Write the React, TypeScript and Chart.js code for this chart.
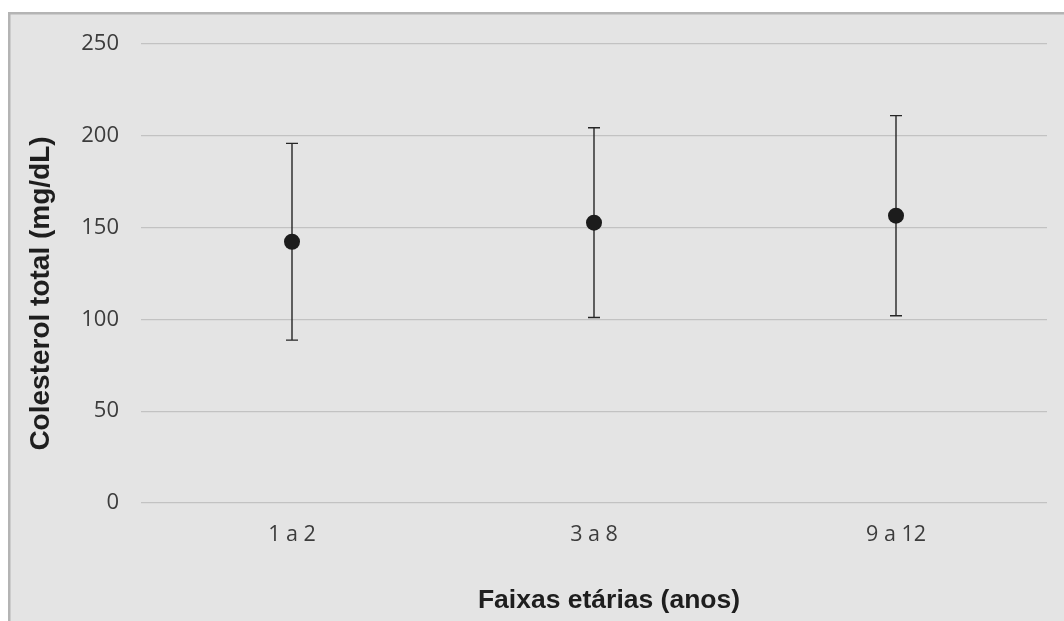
import React, { useEffect, useRef } from "react";
import { Chart, registerables } from "chart.js";

Chart.register(...registerables);

// Age groups and total cholesterol (mean ± SD, mg/dL)
const ageGroups = ["1 a 2", "3 a 8", "9 a 12"];
const meanValues = [142.3, 152.7, 156.5];
const sdValues = [53.6, 51.7, 54.5];
const yTicks = [0, 50, 100, 150, 200, 250];

const xTitle = "Faixas etárias (anos)";
const yTitle = "Colesterol total (mg/dL)";

const panelPlugin = {
  id: "panel",
  beforeDraw(chart: any) {
    const { ctx, width, height } = chart;
    ctx.save();
    ctx.fillStyle = "#ffffff";
    ctx.fillRect(0, 0, width, height);
    ctx.fillStyle = "#b4b4b4";
    ctx.fillRect(8, 12, width - 8, height - 12);
    ctx.fillStyle = "#e4e4e4";
    ctx.fillRect(10.5, 14.5, width - 10.5, height - 14.5);
    ctx.restore();
  },
};

const errorBarPlugin = {
  id: "errorBars",
  beforeDatasetsDraw(chart: any) {
    const { ctx } = chart;
    const xScale = chart.scales.x;
    const yScale = chart.scales.y;
    ctx.save();
    ctx.strokeStyle = "#262626";
    ctx.lineWidth = 1.4;
    meanValues.forEach((m, i) => {
      const x = xScale.getPixelForValue(i);
      const yTop = yScale.getPixelForValue(m + sdValues[i]);
      const yBot = yScale.getPixelForValue(m - sdValues[i]);
      const cap = 6;
      ctx.beginPath();
      ctx.moveTo(x, yTop);
      ctx.lineTo(x, yBot);
      ctx.moveTo(x - cap, yTop);
      ctx.lineTo(x + cap, yTop);
      ctx.moveTo(x - cap, yBot);
      ctx.lineTo(x + cap, yBot);
      ctx.stroke();
    });
    ctx.restore();
  },
};

const axisTitlesPlugin = {
  id: "axisTitles",
  afterDraw(chart: any) {
    const { ctx } = chart;
    ctx.save();
    ctx.fillStyle = "#1e1e1e";
    ctx.font = "bold 26.5px 'Liberation Sans', Arial, sans-serif";
    ctx.textAlign = "center";
    ctx.textBaseline = "alphabetic";
    ctx.fillText(xTitle, 609, 608);

    ctx.font = "bold 28px 'Liberation Sans', Arial, sans-serif";
    ctx.translate(48.5, 293.5);
    ctx.rotate(-Math.PI / 2);
    ctx.fillText(yTitle, 0, 0);
    ctx.restore();
  },
};

export default function App() {
  const canvasRef = useRef<HTMLCanvasElement | null>(null);

  useEffect(() => {
    if (!canvasRef.current) return;
    const chart = new Chart(canvasRef.current, {
      type: "line",
      data: {
        labels: ageGroups,
        datasets: [
          {
            data: meanValues,
            showLine: false,
            pointRadius: 8,
            pointHoverRadius: 8,
            pointBackgroundColor: "#1c1c1c",
            pointBorderColor: "#1c1c1c",
            pointBorderWidth: 0,
          },
        ],
      },
      options: {
        animation: false,
        responsive: false,
        devicePixelRatio: 1,
        layout: { padding: { left: 41, right: 17, top: 44, bottom: 38 } },
        plugins: {
          legend: { display: false },
          tooltip: { enabled: false },
        },
        scales: {
          x: {
            type: "category",
            offset: true,
            grid: { display: false, drawTicks: false },
            border: { display: false },
            ticks: {
              padding: 19,
              color: "#3c3c3c",
              font: { family: "'Open Sans', sans-serif", size: 21.5 },
              maxRotation: 0,
            },
            afterFit: (s: any) => {
              s.height = 80;
            },
          },
          y: {
            min: 0,
            max: 250,
            grid: { color: "#c2c2c2", lineWidth: 1.2, drawTicks: false },
            border: { display: false },
            afterBuildTicks: (s: any) => {
              s.ticks = yTicks.map((v) => ({ value: v }));
            },
            ticks: {
              padding: 22,
              color: "#3c3c3c",
              font: { family: "'Open Sans', sans-serif", size: 22 },
            },
            afterFit: (s: any) => {
              s.width = 100;
            },
          },
        },
      },
      plugins: [panelPlugin, errorBarPlugin, axisTitlesPlugin],
    });
    return () => chart.destroy();
  }, []);

  return (
    <div style={{ position: "fixed", left: 0, top: 0, width: 1064, height: 621, background: "#ffffff" }}>
      <canvas ref={canvasRef} width={1064} height={621} style={{ display: "block" }} />
    </div>
  );
}
